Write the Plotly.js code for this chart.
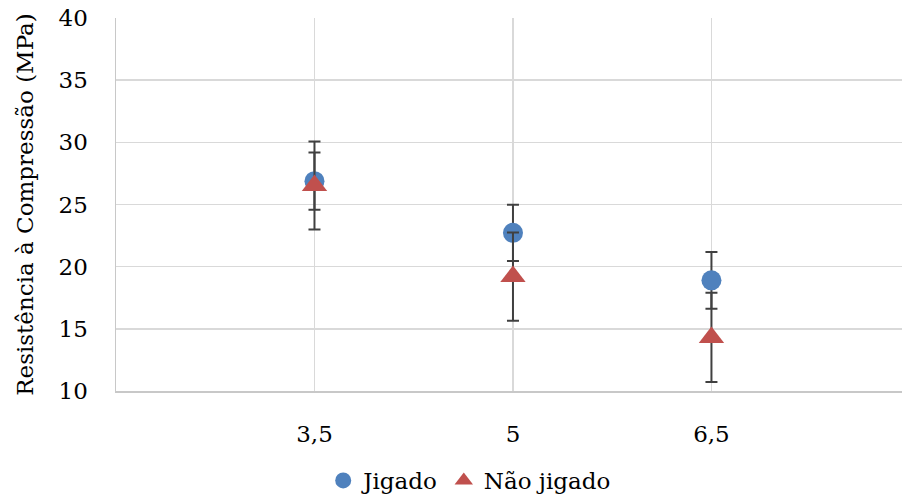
<!DOCTYPE html>
<html>
<head>
<meta charset="utf-8">
<script src="https://cdn.plot.ly/plotly-3.0.1.min.js"></script>
<style>html,body{margin:0;padding:0;background:#fff;}#chart{width:902px;height:502px;}</style>
</head>
<body>
<div id="chart"></div>
<script>
const xValues = [3.5, 5, 6.5];
const xLabels = ["3,5", "5", "6,5"];
const jigado = [26.88, 22.72, 18.9];
const jigadoErr = [2.3, 2.26, 2.28];
const naoJigado = [26.52, 19.2, 14.31];
const naoJigadoErr = [3.54, 3.54, 3.59];
const seriesNames = ["Jigado", "Não jigado"];

const font = "DejaVu Serif";
const fs = 23;
const errStyle = {type: "data", visible: true, color: "#404040", thickness: 2, width: 6};

const traces = [
  {
    x: xValues, y: jigado, name: seriesNames[0], type: "scatter", mode: "markers",
    marker: {symbol: "circle", size: 20, color: "#4F81BD"},
    error_y: Object.assign({array: jigadoErr}, errStyle)
  },
  {
    x: xValues, y: naoJigado, name: seriesNames[1], type: "scatter", mode: "markers",
    marker: {symbol: "triangle-up", size: 22, color: "#C0504D"},
    error_y: Object.assign({array: naoJigadoErr}, errStyle)
  }
];

const layout = {
  width: 902, height: 502,
  margin: {l: 116, r: 0, t: 18, b: 109},
  paper_bgcolor: "#fff", plot_bgcolor: "#fff",
  font: {family: font, size: fs, color: "#000"},
  showlegend: true,
  legend: {orientation: "h", x: 0.45, xanchor: "center", y: -0.24, yanchor: "middle",
           font: {family: font, size: fs, color: "#000"}, itemwidth: 30, traceorder: "normal"},
  xaxis: {
    range: [2, 7.94], tickvals: xValues, ticktext: xLabels, automargin: false,
    showgrid: true, gridcolor: "#d9d9d9", gridwidth: 1.5,
    showline: true, linecolor: "#c8c8c8", linewidth: 1.5,
    zeroline: false, ticks: "", ticklabelstandoff: 22,
    tickfont: {family: font, size: fs, color: "#000"}
  },
  yaxis: {
    range: [10, 40], dtick: 5, tick0: 10, automargin: false,
    showgrid: true, gridcolor: "#d9d9d9", gridwidth: 1.5,
    showline: true, linecolor: "#c8c8c8", linewidth: 1.5,
    zeroline: false, ticks: "", ticklabelstandoff: 22,
    tickfont: {family: font, size: fs, color: "#000"},
    title: {text: "Resistência à Compressão (MPa)", standoff: 18,
            font: {family: font, size: fs, color: "#000"}}
  }
};

Plotly.newPlot("chart", traces, layout, {displayModeBar: false, staticPlot: true});
</script>
</body>
</html>
